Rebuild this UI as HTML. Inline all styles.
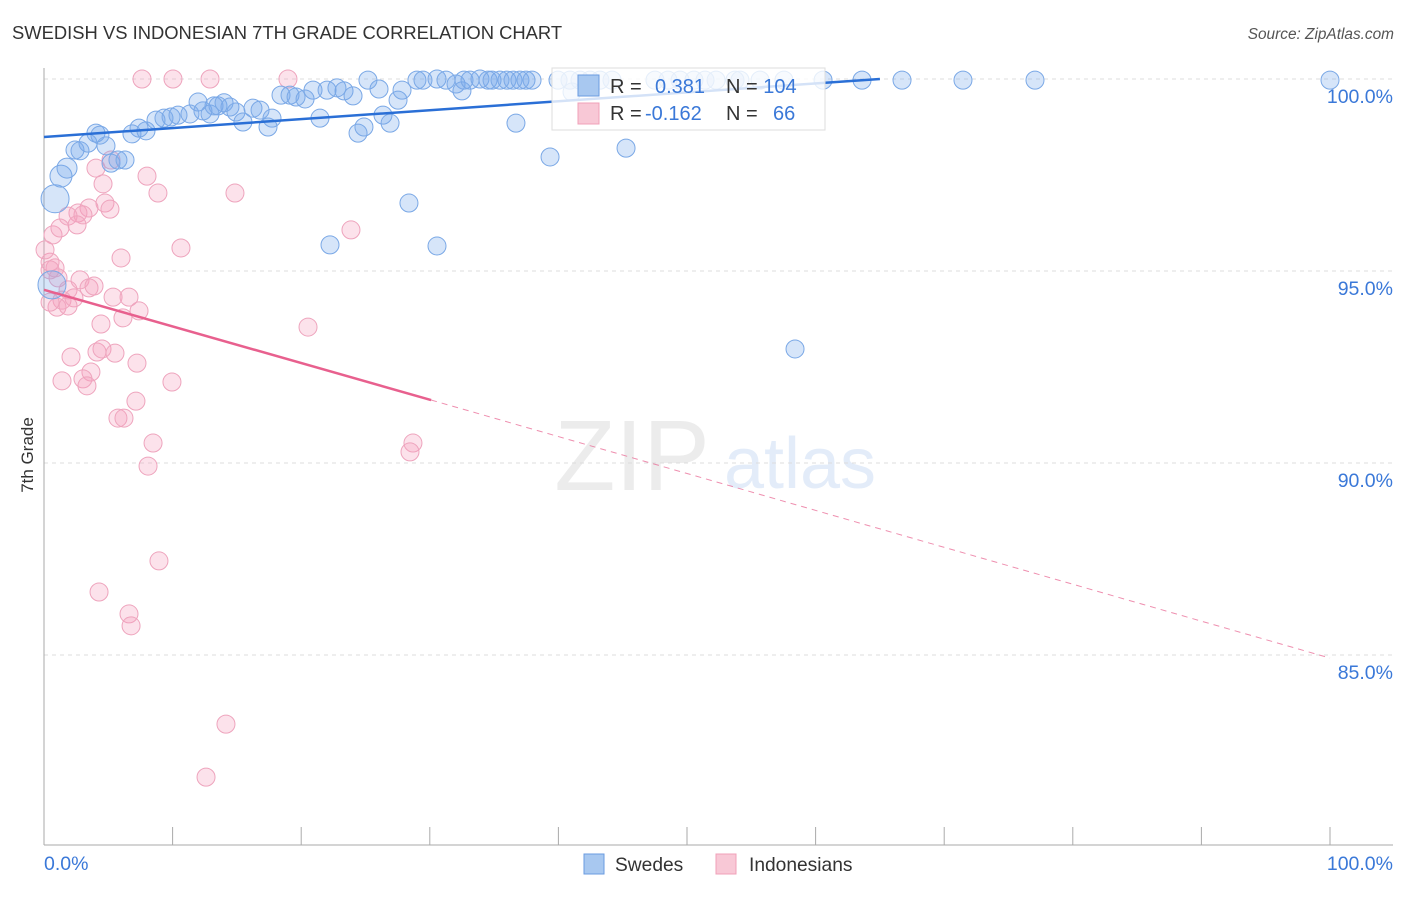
<!DOCTYPE html>
<html><head><meta charset="utf-8"><style>
body{margin:0;background:#fff;font-family:"Liberation Sans",sans-serif;}
svg text{font-family:"Liberation Sans",sans-serif;}
</style></head><body>
<svg id="chart" width="1406" height="892" viewBox="0 0 1406 892" xmlns="http://www.w3.org/2000/svg">
<text x="12" y="39" font-size="18.4" fill="#333">SWEDISH VS INDONESIAN 7TH GRADE CORRELATION CHART</text>
<text x="1394" y="39" font-size="15.4" fill="#555" text-anchor="end" font-style="italic">Source: ZipAtlas.com</text>
<text transform="translate(33,455) rotate(-90)" font-size="17" fill="#333" text-anchor="middle">7th Grade</text>
<g opacity="0.18">
<text x="632" y="490" font-size="100" font-family="Liberation Serif" fill="#999" text-anchor="middle">ZIP</text>
<text x="800" y="488" font-size="72" fill="#6a9be0" text-anchor="middle">atlas</text>
</g>
<g id="grid"></g><g id="axes"></g><g id="pts"></g><g id="trend"></g>
<g>
<rect x="552" y="68" width="273" height="62" fill="rgba(255,255,255,0.8)" stroke="#ddd"/>
<rect x="578" y="75" width="21" height="21" fill="#a8c8f0" stroke="#6a9be0"/>
<rect x="578" y="103" width="21" height="21" fill="#f8c8d6" stroke="#f0a0b8"/>
<text x="610" y="93" font-size="20" fill="#333">R = <tspan fill="#3a78d8" x="655">0.381</tspan><tspan x="726" fill="#333">N = </tspan><tspan fill="#3a78d8">104</tspan></text>
<text x="610" y="120" font-size="20" fill="#333">R = <tspan fill="#3a78d8" x="645">-0.162</tspan><tspan x="726" fill="#333">N = </tspan><tspan fill="#3a78d8" x="773">66</tspan></text>
</g>
<g>
<rect x="584" y="854" width="20" height="20" fill="#a8c8f0" stroke="#6a9be0"/>
<text x="615" y="871" font-size="19.2" fill="#333">Swedes</text>
<rect x="716" y="854" width="20" height="20" fill="#f8c8d6" stroke="#f0a0b8"/>
<text x="749" y="871" font-size="19.2" fill="#333">Indonesians</text>
</g>
</svg>
<script>
const yTicks=[100,95,90,85];
const yTickLabels=["100.0%","95.0%","90.0%","85.0%"];
const xTickVals=[0,10,20,30,40,50,60,70,80,90,100];
const sweX=[0.86,0.62,1.32,1.79,2.41,2.80,3.42,4.04,4.35,4.82,5.21,5.75,6.30,6.84,7.39,7.93,8.71,9.33,9.88,10.42,11.35,11.98,12.36,12.91,13.22,13.53,14.00,14.46,14.93,15.47,16.25,16.80,17.42,17.73,18.43,19.13,19.60,20.30,20.92,21.46,22.01,22.78,23.33,24.03,24.42,24.88,25.19,26.05,26.36,26.91,27.53,27.84,28.38,29.00,29.47,30.56,31.26,32.04,32.50,32.66,33.13,33.90,34.53,34.84,35.46,36.00,36.47,36.70,37.01,37.48,37.95,39.35,39.97,40.90,41.68,42.46,43.23,44.17,45.26,47.51,48.52,49.46,50.54,51.40,52.26,53.73,54.12,55.68,57.54,58.40,60.58,63.61,66.72,71.46,77.06,100,22.24,30.56,41.06];
const sweY=[96.88,94.64,97.47,97.68,98.15,98.13,98.33,98.59,98.54,98.26,97.81,97.89,97.89,98.57,98.72,98.65,98.93,98.98,99.01,99.06,99.09,99.40,99.17,99.09,99.30,99.30,99.38,99.27,99.14,98.88,99.24,99.19,98.75,98.98,99.58,99.58,99.53,99.48,99.71,98.98,99.71,99.77,99.69,99.56,98.59,98.75,99.97,99.74,99.06,98.85,99.45,99.71,96.77,99.97,99.97,100,99.97,99.87,99.69,99.97,99.97,100,99.97,99.97,99.97,99.97,99.97,98.85,99.97,99.97,99.97,97.97,99.97,99.97,99.97,99.97,99.97,99.97,98.20,99.97,99.97,99.97,99.97,99.97,99.97,99.97,99.97,99.97,99.97,92.97,99.97,99.97,99.97,99.97,99.97,99.97,95.68,95.65,99.66];
const sweR=[14,14,11,10,9,9,9,9,9,9,9,9,9,9,9,9,9,9,9,9,9,9,9,9,9,9,9,9,9,9,9,9,9,9,9,9,9,9,9,9,9,9,9,9,9,9,9,9,9,9,9,9,9,9,9,9,9,9,9,9,9,9,9,9,9,9,9,9,9,9,9,9,9,9,9,9,9,9,9,9,9,9,9,9,9,9,9,9,9,9,9,9,9,9,9,9,9,9,9];
const indX=[7.62,10.03,12.91,18.97,4.04,4.59,5.21,8.01,8.86,14.85,4.74,5.13,3.50,2.64,3.03,1.87,2.57,0.70,1.24,0.47,0.86,1.09,5.99,10.65,23.87,2.80,1.87,1.40,2.33,3.50,3.89,5.37,6.61,7.39,6.14,4.43,20.53,1.01,1.87,2.10,4.12,4.51,5.52,7.23,3.65,3.03,3.34,1.40,9.95,7.15,5.75,6.22,8.48,8.09,28.69,28.46,8.94,4.28,6.61,6.77,14.15,12.60,0.47,0.08,0.47];
const indY=[100,100,100,100,97.68,97.27,97.89,97.47,97.03,97.03,96.77,96.61,96.64,96.51,96.46,96.43,96.20,95.94,96.12,95.23,95.08,94.82,95.34,95.60,96.07,94.77,94.51,94.24,94.30,94.56,94.61,94.32,94.32,93.96,93.78,93.62,93.54,94.06,94.09,92.76,92.89,92.97,92.86,92.60,92.37,92.19,92.01,92.14,92.11,91.61,91.17,91.17,90.52,89.92,90.52,90.29,87.45,86.64,86.07,85.76,83.20,81.82,94.19,95.55,95.03];
const sweTrend=[0,98.49,65,100];
const indTrend=[0,94.51,30.1,91.64,100,84.92];
const NS="http://www.w3.org/2000/svg";
const X=v=>44+v*12.86, Y=v=>79+(100-v)*38.4;
function mk(tag,a,parent){const e=document.createElementNS(NS,tag);for(const k in a)e.setAttribute(k,a[k]);document.getElementById(parent).appendChild(e);return e;}
yTicks.forEach((t,i)=>{
 const g=mk('line',{x1:44,x2:1393,y1:Y(t),y2:Y(t),stroke:'#ddd','stroke-dasharray':'4,4'},'grid');
 
 
 const l=mk('text',{x:1393,y:Y(t)+24,'font-size':19.5,fill:'#3a78d8','text-anchor':'end'},'axes');l.textContent=yTickLabels[i];
 
 
});
const ax=mk('line',{x1:44,x2:44,y1:68,y2:845,stroke:'#aaa'},'axes');


const bx=mk('line',{x1:44,x2:1393,y1:845,y2:845,stroke:'#aaa'},'axes');


xTickVals.forEach(v=>{const t=mk('line',{x1:X(v),x2:X(v),y1:827,y2:845,stroke:'#aaa'},'axes');
 
 });
const xl0=mk('text',{x:44,y:870,'font-size':19.5,fill:'#3a78d8'},'axes');xl0.textContent='0.0%';


const xl1=mk('text',{x:1393,y:870,'font-size':19.5,fill:'#3a78d8','text-anchor':'end'},'axes');xl1.textContent='100.0%';


indX.forEach((v,i)=>{const c=mk('circle',{cx:X(v),cy:Y(indY[i]),r:9,fill:'rgba(244,160,188,0.3)',stroke:'#eea4bd','stroke-width':1},'pts');
 
 });
sweX.forEach((v,i)=>{const c=mk('circle',{cx:X(v),cy:Y(sweY[i]),r:sweR[i],fill:'rgba(120,170,235,0.3)',stroke:'#7aa8e6','stroke-width':1},'pts');
 
 });
const t1=mk('line',{x1:X(sweTrend[0]),y1:Y(sweTrend[1]),x2:X(sweTrend[2]),y2:Y(sweTrend[3]),stroke:'#2a6fd6','stroke-width':2.5},'trend');


const t2=mk('line',{x1:X(indTrend[0]),y1:Y(indTrend[1]),x2:X(indTrend[2]),y2:Y(indTrend[3]),stroke:'#e8608e','stroke-width':2.5},'trend');


const t3=mk('line',{x1:X(indTrend[2]),y1:Y(indTrend[3]),x2:X(indTrend[4]),y2:Y(indTrend[5]),stroke:'#e8608e','stroke-width':1,'stroke-dasharray':'6,5',opacity:0.7},'trend');


</script>
</body></html>
